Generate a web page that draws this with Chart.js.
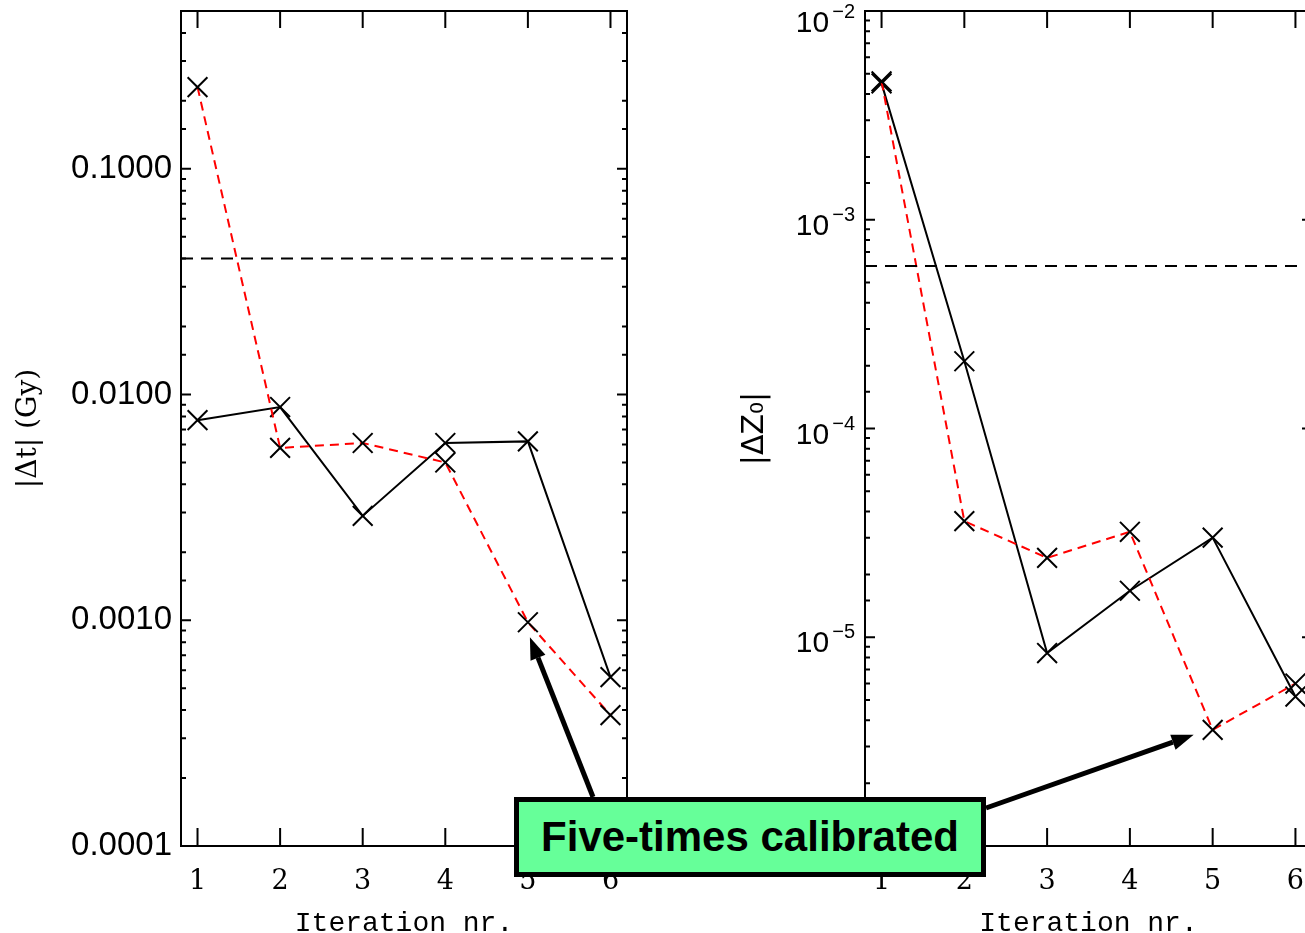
<!DOCTYPE html>
<html>
<head>
<meta charset="utf-8">
<script src="https://cdn.jsdelivr.net/npm/chart.js@4.4.1/dist/chart.umd.min.js"></script>
<style>
  html, body { margin: 0; padding: 0; background: #fff; overflow: hidden; width: 1305px; height: 933px; }
  .panel { position: absolute; top: 0; }
  #arrows { position: absolute; left: 0; top: 0; }
  #note {
    position: absolute; left: 514px; top: 797px; width: 462px; height: 70px;
    background: #66ff99; border: 5px solid #000;
    font: bold 42px "Liberation Sans", Arial, sans-serif; color: #000;
    text-align: center; line-height: 70px; white-space: nowrap;
  }
</style>
</head>
<body>
<div class="panel" style="left:0"><canvas id="dtChart" width="640" height="933"></canvas></div>
<div class="panel" style="left:680px"><canvas id="dzChart" width="640" height="933"></canvas></div>
<canvas id="arrows" width="1305" height="933"></canvas>
<div id="note">Five-times calibrated</div>
<script>
// Données
const iterations = [1, 2, 3, 4, 5, 6];
const dtSolid = [0.0077, 0.0088, 0.0029, 0.0061, 0.0062, 0.00056];
const dtDashed = [0.23, 0.0058, 0.0061, 0.0050, 0.00098, 0.00038];
const dtLimit = 0.04;
const dzSolid = [0.0045, 0.00021, 8.4e-6, 1.67e-5, 3.0e-5, 5.2e-6];
const dzDashed = [0.0046, 3.6e-5, 2.4e-5, 3.2e-5, 3.6e-6, 6.0e-6];
const dzLimit = 6.0e-4;
const dtTickValues = [1e-4, 1e-3, 1e-2, 1e-1];
const dtTickLabels = ['0.0001', '0.0010', '0.0100', '0.1000'];
const dzTickValues = [1e-6, 1e-5, 1e-4, 1e-3, 1e-2];
const dzTickBase = '10';
const dzTickExponents = ['−6', '−5', '−4', '−3', '−2'];
const xTickLabels = ['1', '2', '3', '4', '5', '6'];

const xMin = 0.8, xMax = 6.2;

function isMajor(v) {
  const l = Math.log10(v);
  return Math.abs(l - Math.round(l)) < 1e-6;
}

function indexOfLog(values, v) {
  return values.findIndex(m => Math.abs(Math.log10(m) - Math.log10(v)) < 1e-6);
}

function labelFor(values, labels) {
  return function (v) {
    if (!isMajor(v)) return '';
    const i = indexOfLog(values, v);
    return i >= 0 ? labels[i] : '';
  };
}

// Cadre et graduations vers l'intérieur
const frameTicks = {
  id: 'frameTicks',
  afterDraw(chart) {
    const { ctx, chartArea: a, scales: { x, y } } = chart;
    ctx.save();
    ctx.strokeStyle = '#000';
    ctx.lineWidth = 2;
    ctx.strokeRect(a.left, a.top, a.right - a.left, a.bottom - a.top);
    ctx.beginPath();
    x.ticks.forEach(t => {
      const px = x.getPixelForValue(t.value);
      ctx.moveTo(px, a.bottom); ctx.lineTo(px, a.bottom - 18);
      ctx.moveTo(px, a.top); ctx.lineTo(px, a.top + 17);
    });
    y.ticks.forEach(t => {
      const py = y.getPixelForValue(t.value);
      const len = isMajor(t.value) ? 10 : 5;
      ctx.moveTo(a.left, py); ctx.lineTo(a.left + len, py);
      ctx.moveTo(a.right, py); ctx.lineTo(a.right - len, py);
    });
    ctx.stroke();
    ctx.restore();
  }
};

// Étiquettes en puissances de dix (10 puis exposant surélevé)
const powerLabels = {
  id: 'powerLabels',
  afterDraw(chart) {
    const { ctx, chartArea: a, scales: { y } } = chart;
    ctx.save();
    ctx.fillStyle = '#000';
    ctx.textAlign = 'right';
    ctx.textBaseline = 'alphabetic';
    y.ticks.forEach(t => {
      if (!isMajor(t.value)) return;
      const i = indexOfLog(dzTickValues, t.value);
      if (i < 0) return;
      const py = y.getPixelForValue(t.value);
      const base = Math.max(py + 15, 32);
      const right = a.left - 10;
      ctx.font = '20px "Liberation Sans"';
      const ew = ctx.measureText(dzTickExponents[i]).width;
      ctx.fillText(dzTickExponents[i], right, base - 14);
      ctx.font = '30px "Liberation Sans"';
      ctx.fillText(dzTickBase, right - ew - 3, base);
    });
    ctx.restore();
  }
};

function points(vals) {
  return iterations.map((x, i) => ({ x: x, y: vals[i] }));
}

function makeConfig(solid, dashed, limit, yMin, yMax, tickCallback, yTitle, yw, titleFont, titlePad, rightPad, extra) {
  return {
    type: 'line',
    data: {
      datasets: [
        {
          data: [{ x: xMin, y: limit }, { x: xMax, y: limit }],
          borderColor: '#000', borderWidth: 2, borderDash: [12, 8],
          pointRadius: 0
        },
        {
          data: points(dashed),
          borderColor: '#ff0000', borderWidth: 2, borderDash: [9, 6],
          pointStyle: 'crossRot', pointRadius: 14, pointBorderColor: '#000',
          pointBorderWidth: 2, pointBackgroundColor: '#000'
        },
        {
          data: points(solid),
          borderColor: '#000', borderWidth: 2,
          pointStyle: 'crossRot', pointRadius: 14, pointBorderColor: '#000',
          pointBorderWidth: 2, pointBackgroundColor: '#000'
        }
      ]
    },
    options: {
      responsive: false,
      animation: false,
      events: [],
      layout: { autoPadding: false, padding: { top: 11, right: rightPad, bottom: 0, left: 0 } },
      plugins: { legend: { display: false }, tooltip: { enabled: false } },
      scales: {
        x: {
          type: 'linear', min: xMin, max: xMax,
          grid: { display: false, drawTicks: false },
          border: { display: false },
          afterBuildTicks: s => { s.ticks = iterations.map(v => ({ value: v })); },
          afterFit: s => { s.height = 87; s.paddingLeft = 0; s.paddingRight = 0; },
          ticks: {
            padding: 20, maxRotation: 0, autoSkip: false, color: '#000',
            font: { family: 'DejaVu Serif', size: 27 },
            callback: v => xTickLabels[iterations.indexOf(v)] || ''
          },
          title: {
            display: true, text: 'Iteration nr.', color: '#000',
            font: { family: 'Liberation Mono', size: 28, lineHeight: 1 },
            padding: { top: 0, bottom: -5 }
          }
        },
        y: {
          type: 'logarithmic', min: yMin, max: yMax,
          grid: { display: false, drawTicks: false },
          border: { display: false },
          afterFit: s => { s.width = yw; s.paddingTop = 0; s.paddingBottom = 0; },
          ticks: {
            padding: 9, autoSkip: false, color: '#000',
            font: { family: 'Liberation Sans', size: 33 },
            callback: tickCallback
          },
          title: {
            display: true, text: yTitle, color: '#000',
            font: titleFont,
            padding: { top: titlePad, bottom: 0 }
          }
        }
      }
    },
    plugins: [frameTicks].concat(extra)
  };
}

const dtChart = new Chart(document.getElementById('dtChart'),
  makeConfig(dtSolid, dtDashed, dtLimit, 1e-4, 0.5, labelFor(dtTickValues, dtTickLabels),
    '|Δt| (Gy)', 181, { family: 'DejaVu Serif', size: 28 }, 12, 13, []));

const dzChart = new Chart(document.getElementById('dzChart'),
  makeConfig(dzSolid, dzDashed, dzLimit, 1e-6, 1e-2, () => '',
    '|ΔZ₀|', 185, { family: 'DejaVu Sans', size: 30 }, 57, 8, [powerLabels]));

// Flèches de l'annotation
function arrow(ctx, x0, y0, x1, y1) {
  const ang = Math.atan2(y1 - y0, x1 - x0);
  const head = 22, half = 8;
  const bx = x1 - head * Math.cos(ang), by = y1 - head * Math.sin(ang);
  ctx.beginPath();
  ctx.moveTo(x0, y0); ctx.lineTo(bx, by);
  ctx.stroke();
  ctx.beginPath();
  ctx.moveTo(x1, y1);
  ctx.lineTo(bx + half * Math.sin(ang), by - half * Math.cos(ang));
  ctx.lineTo(bx - half * Math.sin(ang), by + half * Math.cos(ang));
  ctx.closePath();
  ctx.fill();
}

const actx = document.getElementById('arrows').getContext('2d');
actx.strokeStyle = '#000';
actx.fillStyle = '#000';
actx.lineWidth = 5;
const lx = dtChart.scales.x.getPixelForValue(5);
const ly = dtChart.scales.y.getPixelForValue(dtDashed[4]);
arrow(actx, 593, 797, lx + 2, ly + 15);
const rx = 680 + dzChart.scales.x.getPixelForValue(5);
const ry = dzChart.scales.y.getPixelForValue(dzDashed[4]);
arrow(actx, 986, 808, rx - 19, ry + 5);
</script>
</body>
</html>
